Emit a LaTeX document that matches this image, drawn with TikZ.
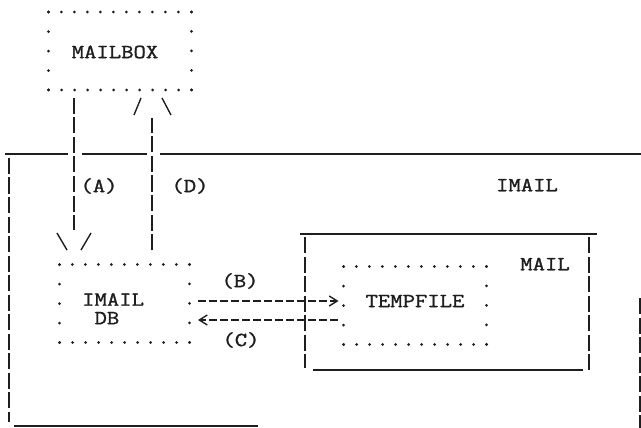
\documentclass[tikz,border=0pt]{standalone}
\usepackage{fontspec}
\newfontfamily\typefont{Latin Modern Mono}[FakeStretch=1.2, FakeBold=1.4]
\usetikzlibrary{arrows.meta}
\definecolor{ink}{RGB}{30,30,30}

% four dotted sides round an (empty) box node
\newcommand{\dotframe}[1]{%
  \draw[dotrow] (#1.north west) -- (#1.north east);
  \draw[dotcol] (#1.north east) -- (#1.south east);
  \draw[dotrow] (#1.south east) -- (#1.south west);
  \draw[dotcol] (#1.south west) -- (#1.north west);}

\begin{document}
\begin{tikzpicture}[
    x=1pt, y=-1pt,
    txt/.style={font=\typefont\fontsize{20}{18.5}\selectfont, text=ink, inner sep=0pt},
    boxarea/.style={minimum height=78pt, inner sep=0pt, outer sep=0pt},
    dotrow/.style={ink, line width=3pt, line cap=round, dash pattern=on 0pt off 12.99pt},
    dotcol/.style={ink, line width=3pt, line cap=round, dash pattern=on 0pt off 19.49pt},
    rule/.style={ink, line width=1.4pt},
    bar/.style={ink, line width=1.4pt, dash pattern=on 16pt off 3.5pt},
    flow/.style={ink, line width=1.8pt, dash pattern=on 8pt off 3pt},
    tip/.style={-{Straight Barb[length=8pt, width=10pt, line width=1.4pt]}}
]
\useasboundingbox (0,0) rectangle (641,428);

% dotted boxes
\node[boxarea, minimum width=143pt] (mailbox) at (120,51) {};
\node[boxarea, minimum width=130pt] (imaildb) at (124.5,303.5) {};
\node[boxarea, minimum width=143pt] (tempfile) at (415,305.5) {};
\dotframe{mailbox}
\dotframe{imaildb}
\dotframe{tempfile}

% texts
\node[txt] (mailbox label) at (115,52) {MAILBOX};
\node[txt, align=left, anchor=north west] (imaildb label) at (82,293) {IMAIL\\\hphantom{I}DB};
\node[txt] (tempfile label) at (415,301) {TEMPFILE};
\node[txt] (mail label) at (545,264) {MAIL};
\node[txt] (imail label) at (527,185) {IMAIL};
\node[txt] (a label) at (99,186) {(A)};
\node[txt] (d label) at (190,186) {(D)};
\node[txt] (b label) at (240,281) {(B)};
\node[txt] (c label) at (241,340) {(C)};

% IMAIL frame
\draw[rule] (5,154) -- (68,154) (82,154) -- (147,154) (160,154) -- (641,154);
\draw[bar] (9,158) -- (9,422);
\draw[rule] (14,426) -- (258,426);
\draw[bar] (640,298) -- (640,428);

% MAIL frame
\draw[rule] (300,234) -- (597,234);
\draw[bar] (305,237) -- (305,368);
\draw[bar] (589,237) -- (589,370);
\draw[rule] (313,370) -- (583,370);

% (A) down, (D) up
\draw[bar, shorten <=8pt, shorten >=34.5pt] ([xshift=-46pt]mailbox.south) -- ([xshift=-50.5pt]imaildb.north);
\draw[rule] (57,233) -- (67,250) (91,233) -- (81,250);
\draw[bar, shorten <=14.5pt, shorten >=28pt] ([xshift=27.5pt]imaildb.north) -- ([xshift=32pt]mailbox.south);
\draw[rule] (134,115) -- (141,98) (162,98) -- (171,115);

% (B) and (C)
\draw[flow, tip] ([xshift=8.5pt, yshift=2.5pt]imaildb.east) -- ([xshift=-5pt, yshift=4.5pt]tempfile.west);
\draw[flow, tip] ([xshift=-6pt, yshift=-14.5pt]tempfile.west) -- ([xshift=8.5pt, yshift=-16.5pt]imaildb.east);
\end{tikzpicture}
\end{document}
